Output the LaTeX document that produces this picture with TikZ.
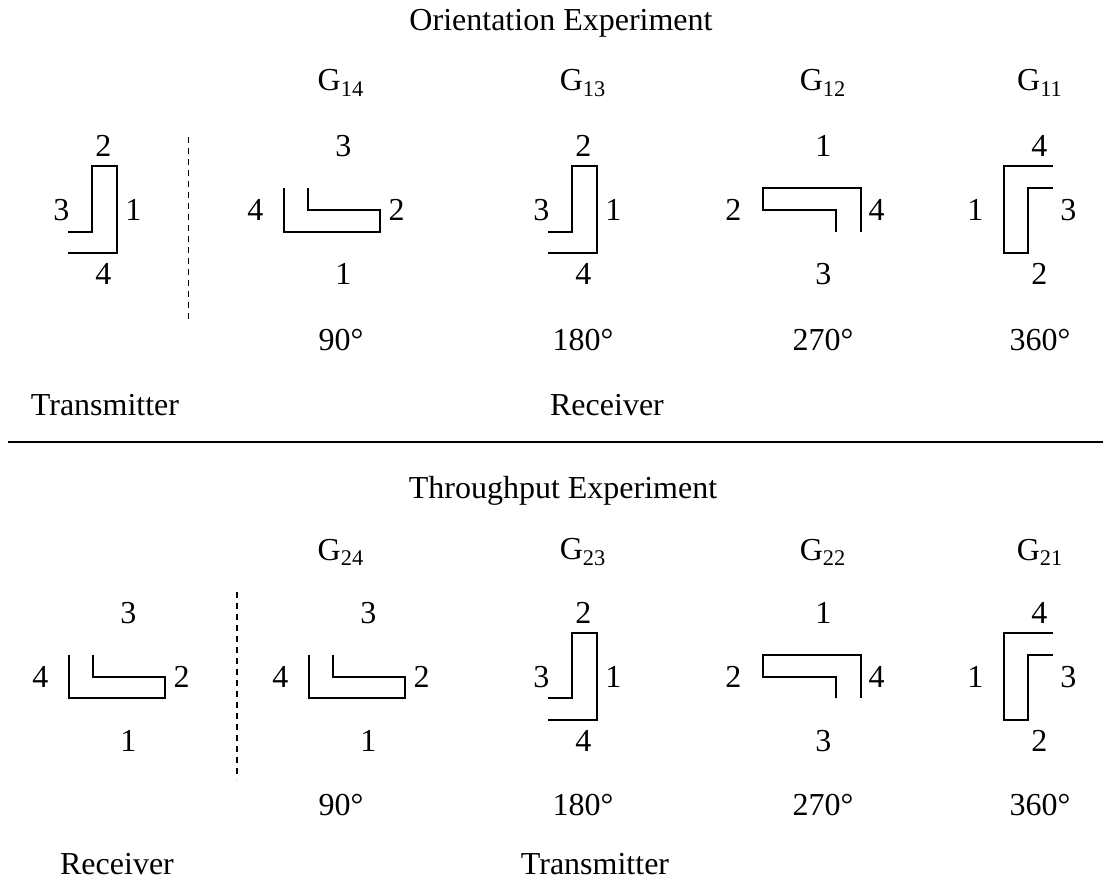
\documentclass[tikz,border=0pt]{standalone}
\usepackage{fontspec}
\setmainfont{Liberation Serif}
\begin{document}
\begin{tikzpicture}
  [x=0.5pt,y=-0.5pt,
   every node/.style={inner sep=0pt,font=\fontsize{16}{19}\selectfont},
   wire/.style={line width=0.95pt},
   rule/.style={line width=1.1pt},
   cut/.style={line width=0.8pt,dash pattern=on 3pt off 2.5pt}]
  \useasboundingbox (0,0) rectangle (1103,882);

  % headings
  \node (otitle) at (561,23)  {Orientation Experiment};
  \node (ttitle) at (563,491) {Throughput Experiment};

  % gain labels and angles
  \foreach \n/\x/\deg in {4/341/90,3/583/180,2/823/270,1/1040/360} {
    \node (g1\n) at (\x,83)  {G\textsubscript{1\n}};
    \node (g2\n) at (\x,552) {G\textsubscript{2\n}};
    \node (a1\n) at (\x,340) {\deg°};
    \node (a2\n) at (\x,805) {\deg°};
  }

  % roles
  \node (otx) at (105,405) {Transmitter};
  \node (orx) at (607,405) {Receiver};
  \node (trx) at (117,864) {Receiver};
  \node (ttx) at (595,864) {Transmitter};

  % separator
  \coordinate (sepl) at (8,441.7);
  \coordinate (sepr) at (1103,441.7);
  \draw[rule] (sepl) -- (sepr);

  % dashed dividers
  \coordinate (d1a) at (188.3,137);
  \coordinate (d1b) at (188.3,319);
  \coordinate (d2a) at (236.7,592);
  \coordinate (d2b) at (236.7,779);
  \draw[cut] (d1a) -- (d1b);
  \draw[cut] (d2a) -- (d2b);

  % upright L, open to the left
  \foreach \s/\cx/\cy in {otx/103.3/210,g13/583.3/210,g23/583.3/676.7} {
    \draw[wire,shift={(\cx,\cy)}] (-35,21.7) -- (-11,21.7) -- (-11,-44)
      -- (13.4,-44) -- (13.4,43.3) -- (-35,43.3);
    \node (\s-t) at (\cx,\cy-64) {2};
    \node (\s-l) at (\cx-42,\cy) {3};
    \node (\s-r) at (\cx+30,\cy) {1};
    \node (\s-b) at (\cx,\cy+64) {4};
  }

  % flat L, open to the top
  \foreach \s/\cx/\cy in {g14/343.3/210,g24/368.3/676.7,trx/128.3/676.7} {
    \draw[wire,shift={(\cx,\cy)}] (-35,-21.7) -- (-35,0) -- (36.7,0)
      -- (36.7,21.7) -- (-59,21.7) -- (-59,-21.7);
    \node (\s-t) at (\cx,\cy-64) {3};
    \node (\s-l) at (\cx-88,\cy) {4};
    \node (\s-r) at (\cx+53.4,\cy) {2};
    \node (\s-b) at (\cx,\cy+64) {1};
  }

  % flat L, open to the bottom
  \foreach \s/\cx/\cy in {g12/823.3/210,g22/823.3/676.7} {
    \draw[wire,shift={(\cx,\cy)}] (12.7,21.7) -- (12.7,0) -- (-60,0)
      -- (-60,-21.7) -- (37.4,-21.7) -- (37.4,21.7);
    \node (\s-t) at (\cx,\cy-64) {1};
    \node (\s-l) at (\cx-90,\cy) {2};
    \node (\s-r) at (\cx+53.4,\cy) {4};
    \node (\s-b) at (\cx,\cy+64) {3};
  }

  % upright L, open to the right
  \foreach \s/\cx/\cy in {g11/1039.3/210,g21/1039.3/676.7} {
    \draw[wire,shift={(\cx,\cy)}] (13.4,-44) -- (-35,-44) -- (-35,43.3)
      -- (-11,43.3) -- (-11,-21.7) -- (13.4,-21.7);
    \node (\s-t) at (\cx,\cy-64) {4};
    \node (\s-l) at (\cx-64,\cy) {1};
    \node (\s-r) at (\cx+29,\cy) {3};
    \node (\s-b) at (\cx,\cy+64) {2};
  }

\end{tikzpicture}
\end{document}
